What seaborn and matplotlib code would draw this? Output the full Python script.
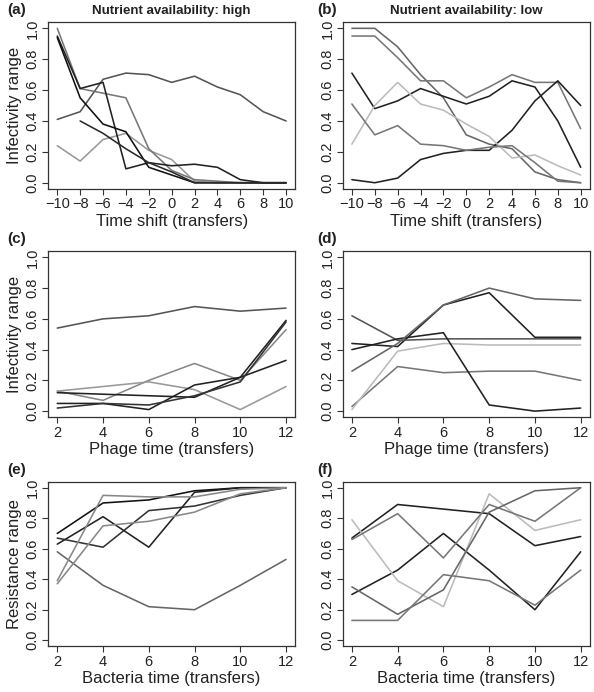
import numpy as np
import pandas as pd
import seaborn as sns
import matplotlib.pyplot as plt

nan = np.nan

# x values
shift = [-10, -8, -6, -4, -2, 0, 2, 4, 6, 8, 10]
transfers = [2, 4, 6, 8, 10, 12]

# (a) infectivity vs time shift, high nutrients
a_lines = [
    [0.41, 0.46, 0.67, 0.71, 0.70, 0.65, 0.69, 0.62, 0.57, 0.46, 0.40],
    [0.24, 0.14, 0.28, 0.32, 0.21, 0.15, 0.01, 0.00, 0.00, 0.00, 0.00],
    [1.00, 0.61, 0.58, 0.55, 0.22, 0.08, 0.02, 0.01, 0.00, 0.00, 0.00],
    [0.95, 0.61, 0.65, 0.09, 0.13, 0.11, 0.12, 0.10, 0.02, 0.00, 0.00],
    [0.94, 0.55, 0.38, 0.33, 0.10, 0.05, 0.00, 0.00, 0.00, 0.00, 0.00],
    [nan, 0.40, 0.32, 0.22, 0.13, 0.07, 0.00, 0.00, 0.00, 0.00, 0.00],
]
a_cols = ['#555555', '#999999', '#777777', '#222222', '#111111', '#2a2a2a']

# (b) infectivity vs time shift, low nutrients
b_lines = [
    [1.00, 1.00, 0.88, 0.70, 0.55, 0.31, 0.25, 0.22, 0.07, 0.02, 0.00],
    [0.95, 0.95, 0.81, 0.66, 0.66, 0.55, 0.62, 0.70, 0.65, 0.65, 0.35],
    [0.71, 0.48, 0.53, 0.61, 0.56, 0.51, 0.56, 0.66, 0.62, 0.40, 0.10],
    [0.02, 0.00, 0.03, 0.15, 0.19, 0.21, 0.21, 0.34, 0.53, 0.66, 0.50],
    [0.25, 0.50, 0.65, 0.51, 0.47, 0.38, 0.30, 0.16, 0.18, 0.11, 0.05],
    [0.51, 0.31, 0.37, 0.25, 0.24, 0.21, 0.23, 0.24, 0.13, 0.01, 0.00],
]
b_cols = ['#666666', '#777777', '#222222', '#222222', '#bbbbbb', '#777777']

# (c) infectivity vs phage time, high nutrients
c_lines = [
    [0.54, 0.60, 0.62, 0.68, 0.65, 0.67],
    [0.13, 0.07, 0.20, 0.31, 0.20, 0.53],
    [0.13, 0.16, 0.19, 0.14, 0.01, 0.16],
    [0.12, 0.11, 0.10, 0.09, 0.22, 0.33],
    [0.05, 0.05, 0.01, 0.17, 0.22, 0.59],
    [0.02, 0.05, 0.04, 0.10, 0.19, 0.58],
]
c_cols = ['#555555', '#888888', '#999999', '#222222', '#222222', '#333333']

# (d) infectivity vs phage time, low nutrients
d_lines = [
    [0.03, 0.29, 0.25, 0.26, 0.26, 0.20],
    [0.01, 0.39, 0.44, 0.43, 0.43, 0.43],
    [0.44, 0.42, 0.69, 0.77, 0.48, 0.48],
    [0.62, 0.46, 0.47, 0.47, 0.47, 0.47],
    [0.40, 0.47, 0.51, 0.04, 0.00, 0.02],
    [0.26, 0.44, 0.69, 0.80, 0.73, 0.72],
]
d_cols = ['#777777', '#bbbbbb', '#222222', '#555555', '#222222', '#666666']

# (e) resistance vs bacteria time, high nutrients
e_lines = [
    [0.58, 0.36, 0.22, 0.20, 0.36, 0.53],
    [0.70, 0.90, 0.92, 0.98, 1.00, 1.00],
    [0.67, 0.61, 0.85, 0.88, 0.95, 1.00],
    [0.63, 0.81, 0.61, 0.97, 1.00, 1.00],
    [0.39, 0.95, 0.94, 0.94, 0.99, 1.00],
    [0.37, 0.75, 0.78, 0.84, 0.96, 1.00],
]
e_cols = ['#666666', '#111111', '#333333', '#222222', '#888888', '#888888']

# (f) resistance vs bacteria time, low nutrients
f_lines = [
    [0.67, 0.89, 0.86, 0.83, 0.62, 0.68],
    [0.30, 0.46, 0.70, 0.46, 0.20, 0.58],
    [0.79, 0.39, 0.22, 0.96, 0.72, 0.79],
    [0.66, 0.83, 0.54, 0.89, 0.78, 1.00],
    [0.35, 0.17, 0.33, 0.84, 0.98, 1.00],
    [0.13, 0.13, 0.43, 0.39, 0.23, 0.46],
]
f_cols = ['#222222', '#222222', '#bbbbbb', '#777777', '#666666', '#777777']

sns.set_theme(style="ticks")
plt.rcParams['font.family'] = ['Liberation Sans', 'DejaVu Sans']

fig = plt.figure(figsize=(5.94, 6.92), dpi=100)

lefts = [0.081, 0.577]
width = 0.416
rows = [(0.727, 0.241), (0.397, 0.240), (0.066, 0.238)]

panels = [
    ('a', a_lines, a_cols, shift, 'Time shift (transfers)', 'Infectivity range', 'Nutrient availability: high'),
    ('b', b_lines, b_cols, shift, 'Time shift (transfers)', None, 'Nutrient availability: low'),
    ('c', c_lines, c_cols, transfers, 'Phage time (transfers)', 'Infectivity range', None),
    ('d', d_lines, d_cols, transfers, 'Phage time (transfers)', None, None),
    ('e', e_lines, e_cols, transfers, 'Bacteria time (transfers)', 'Resistance range', None),
    ('f', f_lines, f_cols, transfers, 'Bacteria time (transfers)', None, None),
]

for i, (tag, lines, cols, xs, xlab, ylab, title) in enumerate(panels):
    bottom, h = rows[i // 2]
    ax = fig.add_axes([lefts[i % 2], bottom, width, h])

    df = pd.concat([pd.DataFrame({'x': xs, 'y': ys, 'line': k}) for k, ys in enumerate(lines)])
    df = df.dropna()
    sns.lineplot(data=df, x='x', y='y', hue='line', palette=cols, estimator=None,
                 legend=False, linewidth=1.15, ax=ax)

    span = xs[-1] - xs[0]
    ax.set_xlim(xs[0] - 0.04 * span, xs[-1] + 0.04 * span)
    ax.set_ylim(-0.04, 1.04)
    ax.set_xticks(xs)
    ax.set_xticklabels([str(v).replace('-', '\u2212') for v in xs])
    ax.set_yticks([0, 0.2, 0.4, 0.6, 0.8, 1.0])
    ax.set_yticklabels(['0.0', '0.2', '0.4', '0.6', '0.8', '1.0'], rotation=90, va='center')
    ax.tick_params(axis='both', labelsize=10.5, length=4, width=0.8, color='#333333',
                   labelcolor='#222222', pad=2)
    for sp in ax.spines.values():
        sp.set_visible(True)
        sp.set_linewidth(0.9)
        sp.set_color('#333333')

    ax.set_xlabel(xlab, fontsize=12, color='#222222', labelpad=2)
    ax.set_ylabel(ylab if ylab else '', fontsize=12, color='#222222', labelpad=3)
    if title:
        ax.set_title(title, fontsize=9.5, fontweight='bold', color='#222222', pad=6)
    ax.text(-0.165 if i % 2 == 0 else -0.105, 1.03, f'({tag})', transform=ax.transAxes,
            fontsize=11, fontweight='bold', color='#222222', ha='left', va='bottom')

fig.savefig('out.png', dpi=100)
